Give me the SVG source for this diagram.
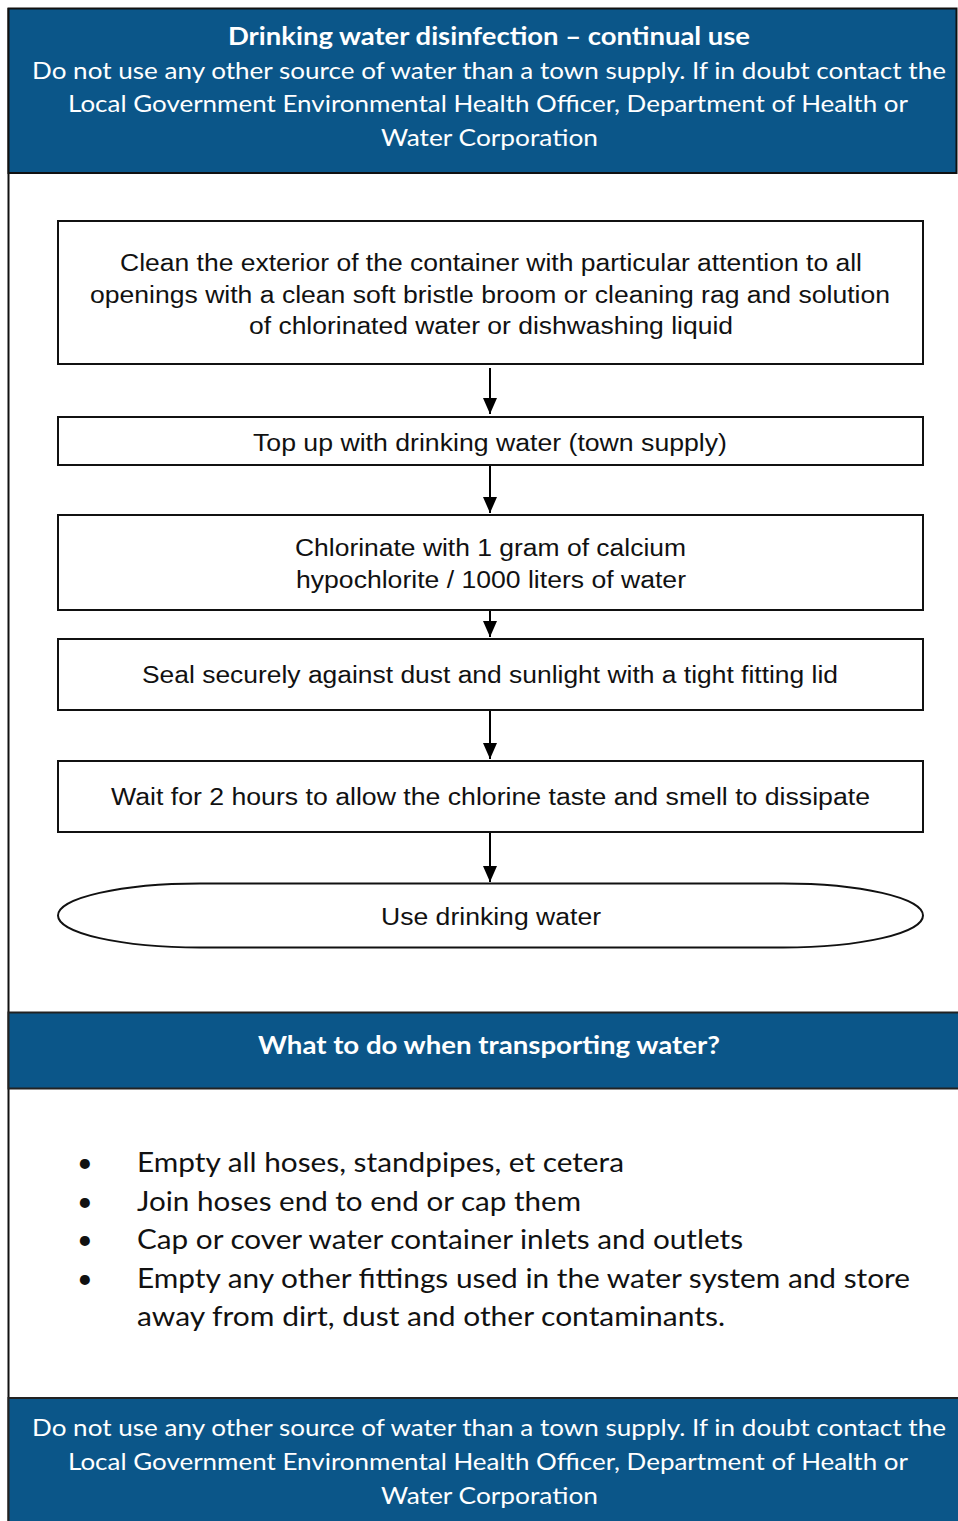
<svg xmlns="http://www.w3.org/2000/svg" width="958" height="1521" viewBox="0 0 958 1521">
<style>
.band{fill:#0B5689;stroke:#111;stroke-width:2}
.hdr{font-family:Lato,"Open Sans",sans-serif;font-size:24px;fill:#fff;text-anchor:middle}
.hdrb{font-family:Lato,"Open Sans",sans-serif;font-size:25px;font-weight:bold;fill:#fff;text-anchor:middle}
.box{fill:#fff;stroke:#111;stroke-width:2}
.bt{font-family:"Liberation Sans",Arial,sans-serif;font-size:23px;fill:#111;text-anchor:middle}
.bul{font-family:Lato,"Open Sans",sans-serif;font-size:27px;fill:#111}
.conn{stroke:#000;stroke-width:2;fill:none}
</style>
<defs>
<marker id="ah" viewBox="0 0 16 14" refX="16" refY="7" markerWidth="16" markerHeight="14" markerUnits="userSpaceOnUse" orient="auto">
<path d="M0,0 L16,7 L0,14 Z" fill="#000"/>
</marker>
</defs>
<rect x="0" y="0" width="958" height="1521" fill="#fff"/>
<line x1="8.5" y1="8" x2="8.5" y2="1521" stroke="#111" stroke-width="2"/>

<g id="header">
<rect class="band" x="8.5" y="8.5" width="948" height="164.5"/>
<text class="hdrb" x="489" y="45" textLength="522" lengthAdjust="spacingAndGlyphs">Drinking water disinfection – continual use</text>
<text class="hdr" x="489" y="79" textLength="914" lengthAdjust="spacingAndGlyphs">Do not use any other source of water than a town supply. If in doubt contact the</text>
<text class="hdr" x="488" y="112" textLength="840" lengthAdjust="spacingAndGlyphs">Local Government Environmental Health Officer, Department of Health or</text>
<text class="hdr" x="489.5" y="146" textLength="217" lengthAdjust="spacingAndGlyphs">Water Corporation</text>
</g>

<g id="step1">
<rect class="box" x="58" y="221" width="865" height="143"/>
<text class="bt" x="491" y="271" textLength="742" lengthAdjust="spacingAndGlyphs">Clean the exterior of the container with particular attention to all</text>
<text class="bt" x="490" y="303" textLength="800" lengthAdjust="spacingAndGlyphs">openings with a clean soft bristle broom or cleaning rag and solution</text>
<text class="bt" x="491" y="334" textLength="484" lengthAdjust="spacingAndGlyphs">of chlorinated water or dishwashing liquid</text>
</g>

<g id="step2">
<rect class="box" x="58" y="417" width="865" height="48"/>
<text class="bt" x="490" y="451" textLength="474" lengthAdjust="spacingAndGlyphs">Top up with drinking water (town supply)</text>
</g>

<g id="step3">
<rect class="box" x="58" y="515" width="865" height="95"/>
<text class="bt" x="490.5" y="556" textLength="391" lengthAdjust="spacingAndGlyphs">Chlorinate with 1 gram of calcium</text>
<text class="bt" x="491" y="588" textLength="390" lengthAdjust="spacingAndGlyphs">hypochlorite / 1000 liters of water</text>
</g>

<g id="step4">
<rect class="box" x="58" y="639" width="865" height="71"/>
<text class="bt" x="490" y="683" textLength="696" lengthAdjust="spacingAndGlyphs">Seal securely against dust and sunlight with a tight fitting lid</text>
</g>

<g id="step5">
<rect class="box" x="58" y="761" width="865" height="71"/>
<text class="bt" x="490.5" y="805" textLength="759" lengthAdjust="spacingAndGlyphs">Wait for 2 hours to allow the chlorine taste and smell to dissipate</text>
</g>

<g id="end">
<path class="box" d="M200,883.5 L783,883.5 A140,32 0 0 1 783,947.5 L200,947.5 A142,32 0 0 1 200,883.5 Z"/>
<text class="bt" x="491" y="925" textLength="220" lengthAdjust="spacingAndGlyphs">Use drinking water</text>
</g>

<g id="connectors">
<line class="conn" x1="490" y1="368" x2="490" y2="414" marker-end="url(#ah)"/>
<line class="conn" x1="490" y1="466" x2="490" y2="513" marker-end="url(#ah)"/>
<line class="conn" x1="490" y1="611" x2="490" y2="637" marker-end="url(#ah)"/>
<line class="conn" x1="490" y1="711" x2="490" y2="759" marker-end="url(#ah)"/>
<line class="conn" x1="490" y1="833" x2="490" y2="882" marker-end="url(#ah)"/>
</g>

<g id="transport-header">
<rect x="8.5" y="1012.5" width="952" height="76" fill="#0B5689" stroke="#222" stroke-width="2"/>
<text class="hdrb" x="489" y="1054" textLength="462" lengthAdjust="spacingAndGlyphs">What to do when transporting water?</text>
</g>

<g id="transport-list">
<text class="bul" x="77" y="1172" font-size="24">•</text>
<text class="bul" x="137" y="1172" textLength="487" lengthAdjust="spacingAndGlyphs">Empty all hoses, standpipes, et cetera</text>
<text class="bul" x="77" y="1211" font-size="24">•</text>
<text class="bul" x="137" y="1211" textLength="444" lengthAdjust="spacingAndGlyphs">Join hoses end to end or cap them</text>
<text class="bul" x="77" y="1249" font-size="24">•</text>
<text class="bul" x="137" y="1249" textLength="606" lengthAdjust="spacingAndGlyphs">Cap or cover water container inlets and outlets</text>
<text class="bul" x="77" y="1288" font-size="24">•</text>
<text class="bul" x="137" y="1288" textLength="773" lengthAdjust="spacingAndGlyphs">Empty any other fittings used in the water system and store</text>
<text class="bul" x="137" y="1326" textLength="588" lengthAdjust="spacingAndGlyphs">away from dirt, dust and other contaminants.</text>
</g>

<g id="footer">
<rect x="8.5" y="1398" width="952" height="130" fill="#0B5689" stroke="#222" stroke-width="2"/>
<text class="hdr" x="489" y="1436" textLength="914" lengthAdjust="spacingAndGlyphs">Do not use any other source of water than a town supply. If in doubt contact the</text>
<text class="hdr" x="488" y="1470" textLength="840" lengthAdjust="spacingAndGlyphs">Local Government Environmental Health Officer, Department of Health or</text>
<text class="hdr" x="489.5" y="1504" textLength="217" lengthAdjust="spacingAndGlyphs">Water Corporation</text>
</g>
</svg>
